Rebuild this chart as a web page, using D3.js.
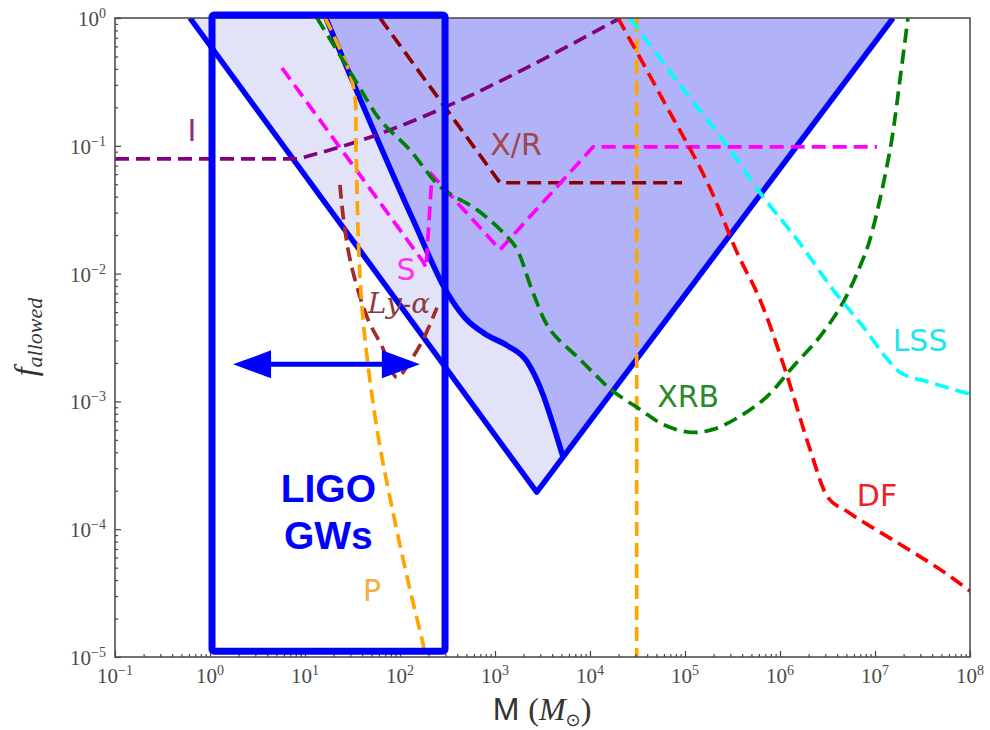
<!DOCTYPE html>
<html>
<head>
<meta charset="utf-8">
<script src="https://cdn.jsdelivr.net/npm/d3@7"></script>
<style>
  body { margin: 0; background: #fff; }
  svg { display: block; }
</style>
</head>
<body>
<svg id="chart" width="990" height="730"></svg>
<script>
// ---------- data: black-hole mass M (solar masses) vs. allowed fraction f ----------
const massDomain = [1e-1, 1e8];
const fracDomain = [1e-5, 1];
const xTickExps = [-1, 0, 1, 2, 3, 4, 5, 6, 7, 8];
const yTickExps = [-5, -4, -3, -2, -1, 0];

// combined exclusion envelope (outer edge) and the stronger inner bound
const outerBound = [[0.615, 1], [2750, 1.95e-4], [1.55e7, 1]];
const innerBound = [[16.6, 1], [137, 0.0264], [313, 7.1e-3], [483, 4.5e-3], [824, 3.3e-3],
                    [1340, 2.74e-3], [2170, 2.05e-3], [3200, 1.13e-3], [4080, 6.6e-4], [5200, 3.66e-4]];

// individual constraints
const boundI   = [[0.1, 0.079], [7.9, 0.079], [12.6, 0.086], [2.09e4, 1]];
const boundXR  = [[61.5, 1], [1130, 0.0514], [9.3e4, 0.0514]];
const boundLya = [[23.3, 0.0495], [25.1, 0.0289], [28.4, 0.0154], [33.6, 8.97e-3], [46.0, 4.38e-3],
                  [64.7, 2.69e-3], [92.9, 1.54e-3], [127, 2.05e-3], [175, 3.05e-3], [245, 5.42e-3]];
const boundS   = [[5.73, 0.406], [175, 0.0124], [188, 0.0111], [217, 0.0593], [1130, 0.0154],
                  [1.08e4, 0.0982], [1.05e7, 0.0982]];
const boundP   = [[16.3, 1], [32.0, 0.30], [34.4, 0.093], [37.0, 0.0136], [41.8, 3.65e-3],
                  [57.3, 6.04e-4], [84.3, 1.36e-4], [127, 3.4e-5], [175, 1.26e-5], [185, 1e-5]];
const boundP2  = [[3.1e4, 1], [3.1e4, 1e-5]];
const boundXRB = [[13.4, 1], [35.2, 0.31], [61.5, 0.16], [127, 0.093], [264, 0.0479], [647, 0.0316],
                  [1340, 0.0195], [1710, 0.0154], [2510, 7.11e-3], [3790, 3.65e-3], [7850, 2.13e-3],
                  [1.27e4, 1.49e-3], [1.75e4, 1.2e-3], [3.36e4, 8.66e-4], [5.86e4, 6.61e-4],
                  [1.13e5, 5.73e-4], [1.97e5, 6.04e-4], [3.79e5, 7.64e-4], [7.29e5, 1.09e-3],
                  [1.37e6, 1.87e-3], [2.64e6, 3.22e-3], [4.6e6, 5.93e-3], [6.95e6, 0.0114],
                  [8.85e6, 0.0185], [1.44e7, 0.093], [1.83e7, 0.328], [2.22e7, 1]];
const boundDF  = [[1.97e4, 1], [5.86e4, 0.229], [1.97e5, 0.0414], [3.61e5, 0.0141], [6.15e5, 6.27e-3],
                  [1.13e6, 1.78e-3], [2.07e6, 4.22e-4], [3.13e6, 1.81e-4], [5.07e6, 1.38e-4],
                  [1.13e7, 9.48e-5], [2.51e7, 6.61e-5], [5.73e7, 4.45e-5], [1e8, 3.28e-5]];
const boundLSS = [[2.64e4, 1], [8.85e4, 0.30], [2.98e5, 0.093], [6.15e5, 0.043], [1.51e6, 0.0185],
                  [3.61e6, 7.5e-3], [7.48e6, 3.85e-3], [1.44e7, 2.02e-3], [1.83e7, 1.69e-3],
                  [3.79e7, 1.41e-3], [1e8, 1.14e-3]];

// constraint names and where their tags sit (M, f)
const boundNames   = ["I", "X/R", "Ly-α", "S", "P", "P2", "XRB", "DF", "LSS"];
const boundSeries  = [boundI, boundXR, boundLya, boundS, boundP, boundP2, boundXRB, boundDF, boundLSS];
const tagNames     = ["I", "X/R", "S", "XRB", "LSS", "DF", "P"];
const tagAnchors   = [[0.646, 0.109], [1663, 0.0851], [115.6, 8.97e-3], [1.08e5, 8.98e-4],
                      [2.98e7, 2.46e-3], [1.05e7, 1.51e-4], [50.7, 2.74e-5]];
const lyaTagAnchor = [97.5, 4.96e-3];

// LIGO mass window
const ligoMass  = [1.05, 298];
const ligoFrac  = [1.11e-5, 1.055];
const arrowMass = [1.75, 162];
const arrowFrac = 1.95e-3;
const ligoText  = ["LIGO", "GWs"];
const ligoTextAt = [[17.6, 1.63e-4], [17.6, 6.98e-5]];

// ---------- styles ----------
const colorOf = {
  "I": "#800080", "X/R": "#8b0000", "Ly-α": "#a52a2a", "S": "#ff00ff", "P": "#ffa500",
  "P2": "#ffa500", "XRB": "#008000", "DF": "#ff0000", "LSS": "#00ffff"
};
const curveOf = {
  "I": d3.curveMonotoneX, "X/R": d3.curveLinear, "Ly-α": d3.curveCatmullRom, "S": d3.curveLinear,
  "P": d3.curveCatmullRom, "P2": d3.curveLinear, "XRB": d3.curveCatmullRom,
  "DF": d3.curveMonotoneX, "LSS": d3.curveMonotoneX
};
const tagColor = {
  "I": "#8a2a8a", "X/R": "#a04848", "S": "#ff33ee", "XRB": "#2a8a2a",
  "LSS": "#22e4ee", "DF": "#ee2222", "P": "#f3b040"
};

// ---------- layout ----------
const svg = d3.select("#chart");
const plot = { left: 115, right: 970, top: 18, bottom: 657 };
const x = d3.scaleLog().domain(massDomain).range([plot.left, plot.right]);
const y = d3.scaleLog().domain(fracDomain).range([plot.bottom, plot.top]);

svg.append("defs").append("clipPath").attr("id", "plotClip")
  .append("rect")
  .attr("x", plot.left).attr("y", plot.top)
  .attr("width", plot.right - plot.left).attr("height", plot.bottom - plot.top);

const area = svg.append("g").attr("clip-path", "url(#plotClip)");
const px = d => [x(d[0]), y(d[1])];

// excluded regions: the outer envelope (light) and the inner bound (dark)
const linear = d3.line().curve(d3.curveLinear);
area.append("path")
  .attr("d", linear(outerBound.map(px)) + "Z")
  .attr("fill", "#e2e2f9");

const innerPath = d3.line().curve(d3.curveMonotoneX)(innerBound.map(px));
area.append("path")
  .attr("d", innerPath + "L" + px(outerBound[2]).join(",") + "Z")
  .attr("fill", "#b2b2f8");

// bounding curves
area.append("path").attr("d", linear(outerBound.map(px)))
  .attr("fill", "none").attr("stroke", "#0000ff").attr("stroke-width", 5.5)
  .attr("stroke-linejoin", "round");
area.append("path").attr("d", innerPath)
  .attr("fill", "none").attr("stroke", "#0000ff").attr("stroke-width", 5.5)
  .attr("stroke-linejoin", "round");

// dashed constraint curves
boundSeries.forEach((pts, i) => {
  const name = boundNames[i];
  area.append("path")
    .attr("d", d3.line().curve(curveOf[name])(pts.map(px)))
    .attr("fill", "none")
    .attr("stroke", colorOf[name])
    .attr("stroke-width", 3.7)
    .attr("stroke-dasharray", "14,7");
});

// ---------- axes ----------
const majorX = xTickExps.map(e => Math.pow(10, e));
const majorY = yTickExps.map(e => Math.pow(10, e));
const minorX = [], minorY = [];
xTickExps.slice(0, -1).forEach(e => { for (let k = 2; k <= 9; k++) minorX.push(k * Math.pow(10, e)); });
yTickExps.slice(0, -1).forEach(e => { for (let k = 2; k <= 9; k++) minorY.push(k * Math.pow(10, e)); });

function tickAxis(axis, transform) {
  const g = svg.append("g").attr("transform", transform).call(axis);
  g.select(".domain").remove();
  g.selectAll("text").remove();
  g.selectAll("line").attr("stroke", "#444").attr("stroke-width", 1.2);
  return g;
}
tickAxis(d3.axisBottom(x).tickValues(majorX).tickSize(-6), `translate(0,${plot.bottom})`);
tickAxis(d3.axisBottom(x).tickValues(minorX).tickSize(-3), `translate(0,${plot.bottom})`);
tickAxis(d3.axisLeft(y).tickValues(majorY).tickSize(-6), `translate(${plot.left},0)`);
tickAxis(d3.axisLeft(y).tickValues(minorY).tickSize(-3), `translate(${plot.left},0)`);

svg.append("rect")
  .attr("x", plot.left).attr("y", plot.top)
  .attr("width", plot.right - plot.left).attr("height", plot.bottom - plot.top)
  .attr("fill", "none").attr("stroke", "#444").attr("stroke-width", 1.5);

function powLabel(sel, exp) {
  sel.append("tspan").text("10");
  sel.append("tspan").attr("dy", -8).attr("font-size", 14)
    .text(exp < 0 ? "\u2212" + (-exp) : String(exp));
}
const tickFont = "'Liberation Serif', 'DejaVu Serif', serif";
xTickExps.forEach(e => {
  const t = svg.append("text")
    .attr("x", x(Math.pow(10, e))).attr("y", 683)
    .attr("text-anchor", "middle").attr("font-family", tickFont)
    .attr("font-size", 21).attr("fill", "#4a4a4a");
  powLabel(t, e);
});
yTickExps.forEach(e => {
  const t = svg.append("text")
    .attr("x", 106).attr("y", y(Math.pow(10, e)) + 8)
    .attr("text-anchor", "end").attr("font-family", tickFont)
    .attr("font-size", 21).attr("fill", "#4a4a4a");
  powLabel(t, e);
});

// axis titles
const xTitle = svg.append("text")
  .attr("x", 542).attr("y", 720).attr("text-anchor", "middle")
  .attr("font-size", 32).attr("fill", "#333");
xTitle.append("tspan").attr("font-family", "'Liberation Sans', Arial, sans-serif").text("M ");
xTitle.append("tspan").attr("font-family", tickFont).text("(");
xTitle.append("tspan").attr("font-family", tickFont).attr("font-style", "italic").text("M");
xTitle.append("tspan").attr("font-family", "'DejaVu Sans', sans-serif").attr("font-size", 18)
  .attr("dy", 6).text("\u2299");
xTitle.append("tspan").attr("font-family", tickFont).attr("dy", -6).text(")");

const yTitle = svg.append("text")
  .attr("transform", "translate(36,337) rotate(-90)")
  .attr("text-anchor", "middle").attr("font-family", tickFont)
  .attr("font-style", "italic").attr("fill", "#333").attr("font-size", 32);
yTitle.append("tspan").text("f");
yTitle.append("tspan").attr("font-size", 22).attr("dy", 6).text("allowed");

// ---------- constraint tags ----------
const tagFont = "'DejaVu Sans', sans-serif";
tagNames.forEach((name, i) => {
  const [m, f] = tagAnchors[i];
  svg.append("text")
    .attr("x", x(m)).attr("y", y(f))
    .attr("text-anchor", "middle").attr("font-family", tagFont)
    .attr("font-size", 30).attr("fill", tagColor[name])
    .text(name);
});
const lya = svg.append("text")
  .attr("x", x(lyaTagAnchor[0])).attr("y", y(lyaTagAnchor[1]))
  .attr("text-anchor", "middle").attr("font-family", "'DejaVu Serif', serif")
  .attr("font-style", "italic")
  .attr("font-size", 28).attr("fill", "#8e3b3b");
lya.append("tspan").text("Ly-");
lya.append("tspan").text("α");

// ---------- LIGO window ----------
const ligo = svg.append("g");
ligo.append("rect")
  .attr("x", x(ligoMass[0])).attr("y", y(ligoFrac[1]))
  .attr("width", x(ligoMass[1]) - x(ligoMass[0]))
  .attr("height", y(ligoFrac[0]) - y(ligoFrac[1]))
  .attr("rx", 2)
  .attr("fill", "none").attr("stroke", "#0000ff").attr("stroke-width", 7);

const ay = y(arrowFrac), ax0 = x(arrowMass[0]), ax1 = x(arrowMass[1]);
const headLen = 38, headHalf = 14;
ligo.append("line")
  .attr("x1", ax0 + headLen - 2).attr("x2", ax1 - headLen + 2)
  .attr("y1", ay).attr("y2", ay)
  .attr("stroke", "#0000ff").attr("stroke-width", 5);
ligo.append("path")
  .attr("d", `M${ax0},${ay}L${ax0 + headLen},${ay - headHalf}L${ax0 + headLen},${ay + headHalf}Z`)
  .attr("fill", "#0000ff");
ligo.append("path")
  .attr("d", `M${ax1},${ay}L${ax1 - headLen},${ay - headHalf}L${ax1 - headLen},${ay + headHalf}Z`)
  .attr("fill", "#0000ff");

ligoText.forEach((t, i) => {
  ligo.append("text")
    .attr("x", x(ligoTextAt[i][0])).attr("y", y(ligoTextAt[i][1]))
    .attr("text-anchor", "middle")
    .attr("font-family", "'Liberation Sans', Arial, sans-serif")
    .attr("font-weight", "bold").attr("font-size", 39).attr("fill", "#0000ff")
    .text(t);
});
</script>
</body>
</html>
